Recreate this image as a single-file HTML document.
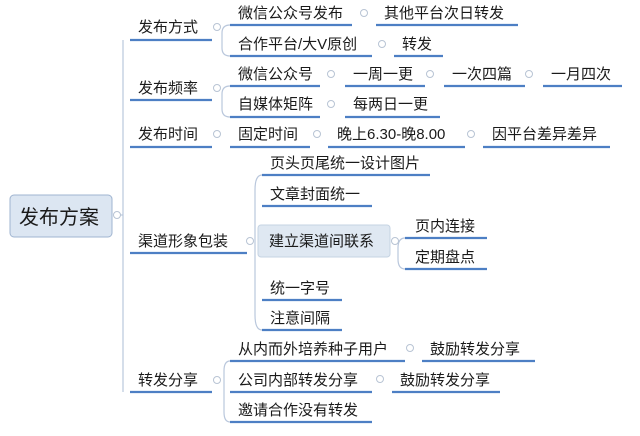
<!DOCTYPE html>
<html><head><meta charset="utf-8"><style>
html,body{margin:0;padding:0;background:#fff;}
svg text{font-family:"Liberation Sans","Noto Sans CJK SC",sans-serif;font-size:15px;fill:#1a1a1a;}
</style></head><body>
<svg width="640" height="431" viewBox="0 0 640 431" xmlns="http://www.w3.org/2000/svg">
<g fill="none" stroke="#b9c7dc" stroke-width="1.2">
<path d="M123 40 V392"/>
<path d="M118 215 H123"/>
<path d="M230 25 Q222 25 222 33 V48 Q222 56 230 56"/>
<path d="M230 86 Q222 86 222 94 V109 Q222 117 230 117"/>
<path d="M262 175 Q255 175 255 190 V315 Q255 330 262 330"/>
<path d="M405 238 Q398 238 398 248 V259 Q398 269 405 269"/>
<path d="M230 361 Q224 361 224 371 V412 Q224 422 230 422"/>
</g>
<g stroke="#4d7fc4" stroke-width="2.2" fill="none">
<path d="M130 40 H212"/><path d="M130 100 H212"/><path d="M130 147 H212"/>
<path d="M130 253 H247"/><path d="M130 392 H212"/>
<path d="M230 25 H352"/><path d="M376 25 H518"/>
<path d="M230 56 H372"/><path d="M394 56 H443"/>
<path d="M230 86 H320"/><path d="M345 86 H425"/><path d="M444 86 H525"/><path d="M543 86 H622"/>
<path d="M230 117 H320"/><path d="M345 117 H440"/>
<path d="M230 147 H310"/><path d="M328 147 H465"/><path d="M483 147 H610"/>
<path d="M262 175 H430"/><path d="M262 206 H372"/>
<path d="M262 300 H342"/><path d="M262 330 H342"/>
<path d="M405 238 H487"/><path d="M405 269 H487"/>
<path d="M230 361 H405"/><path d="M422 361 H535"/>
<path d="M230 392 H372"/><path d="M392 392 H500"/>
<path d="M230 422 H372"/>
</g>
<rect x="10" y="195" width="102" height="42" rx="4" fill="#dce6f2" stroke="#9fb4d0"/>
<text x="19" y="224" style="font-size:20px">发布方案</text>
<rect x="258" y="225" width="132" height="32" rx="3" fill="#dfe8f2" stroke="#c5d3e3"/>
<g fill="#fff" stroke="#b8c4d4" stroke-width="1">
<circle cx="117" cy="215" r="3.5"/>
<circle cx="217" cy="27" r="3.5"/><circle cx="217" cy="88" r="3.5"/><circle cx="217" cy="134" r="3.5"/>
<circle cx="250" cy="241" r="3.5"/><circle cx="217" cy="380" r="3.5"/>
<circle cx="364" cy="13" r="3.5"/><circle cx="382" cy="44" r="3.5"/>
<circle cx="331" cy="74" r="3.5"/><circle cx="430" cy="74" r="3.5"/><circle cx="529" cy="74" r="3.5"/>
<circle cx="331" cy="104" r="3.5"/><circle cx="317" cy="134" r="3.5"/><circle cx="471" cy="134" r="3.5"/>
<circle cx="395" cy="241" r="3.5"/><circle cx="410" cy="348" r="3.5"/><circle cx="380" cy="379" r="3.5"/>
</g>
<text x="138" y="32">发布方式</text>
<text x="138" y="93">发布频率</text>
<text x="138" y="139">发布时间</text>
<text x="138" y="246">渠道形象包装</text>
<text x="138" y="385">转发分享</text>
<text x="238" y="18">微信公众号发布</text><text x="384" y="18">其他平台次日转发</text>
<text x="238" y="49">合作平台/大V原创</text><text x="402" y="49">转发</text>
<text x="238" y="79">微信公众号</text><text x="353" y="79">一周一更</text><text x="452" y="79">一次四篇</text><text x="551" y="79">一月四次</text>
<text x="238" y="109">自媒体矩阵</text><text x="353" y="109">每两日一更</text>
<text x="238" y="139">固定时间</text><text x="337" y="139">晚上6.30-晚8.00</text><text x="492" y="139">因平台差异差异</text>
<text x="270" y="168">页头页尾统一设计图片</text>
<text x="270" y="199">文章封面统一</text>
<text x="269" y="246">建立渠道间联系</text>
<text x="415" y="231">页内连接</text>
<text x="415" y="262">定期盘点</text>
<text x="270" y="293">统一字号</text>
<text x="270" y="323">注意间隔</text>
<text x="238" y="354">从内而外培养种子用户</text><text x="430" y="354">鼓励转发分享</text>
<text x="238" y="385">公司内部转发分享</text><text x="400" y="385">鼓励转发分享</text>
<text x="238" y="415">邀请合作没有转发</text>
</svg>
</body></html>
